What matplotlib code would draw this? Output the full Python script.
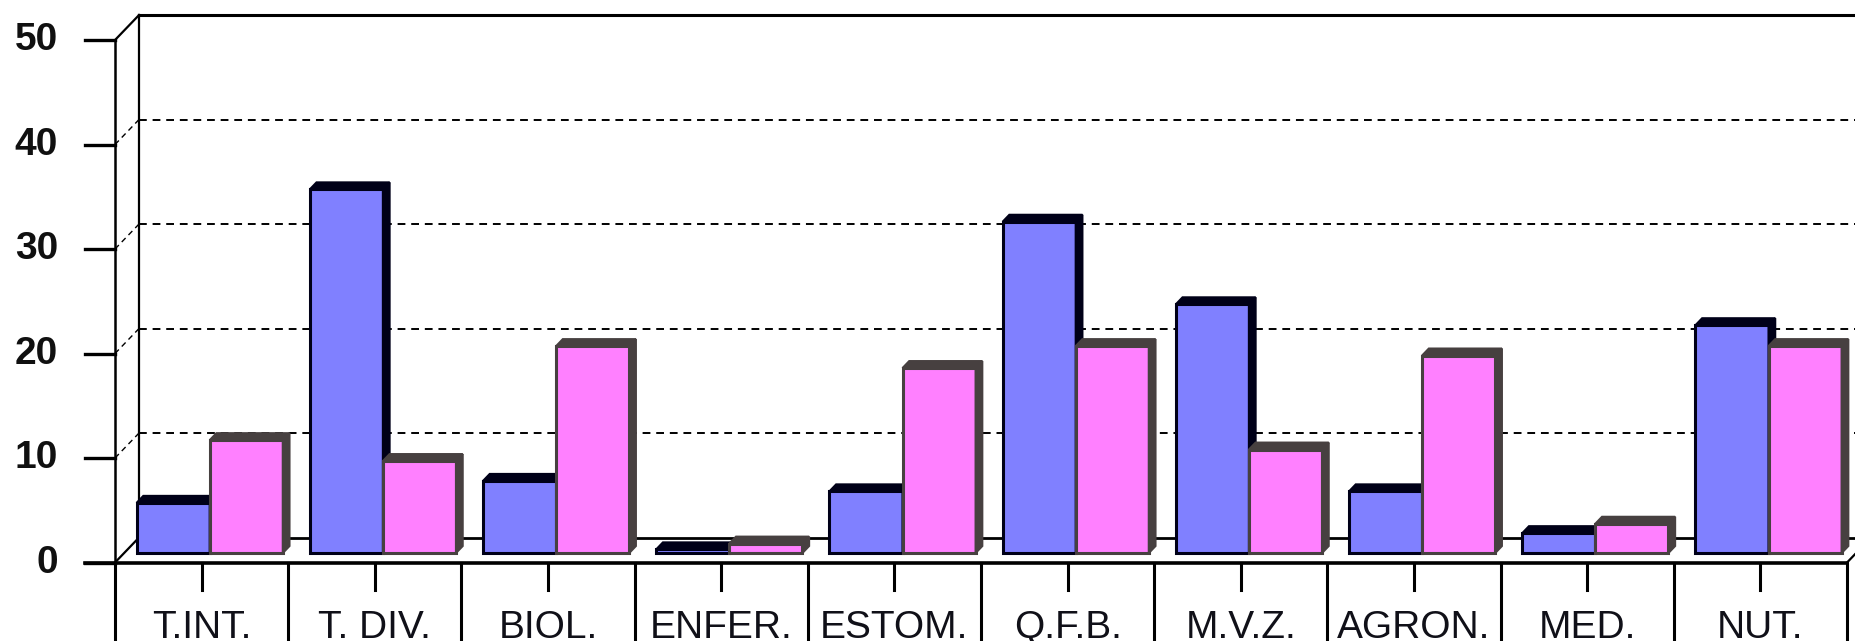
import matplotlib.pyplot as plt
from matplotlib.patches import Polygon

plt.rcParams['font.family'] = ['Liberation Sans', 'DejaVu Sans']

# data
categories = ['T.INT.', 'T. DIV.', 'BIOL.', 'ENFER.', 'ESTOM.',
              'Q.F.B.', 'M.V.Z.', 'AGRON.', 'MED.', 'NUT.']
serie_azul = [4.8, 34.8, 6.9, 0.35, 5.9, 31.7, 23.8, 5.9, 1.9, 21.8]
serie_rosa = [10.8, 8.8, 19.8, 0.9, 17.7, 19.8, 9.9, 18.9, 2.8, 19.8]
y_ticks = [0, 10, 20, 30, 40, 50]
y_max = 50

# pseudo 3d geometry (data units: 1 per category, value units vertically)
DX, DY = 0.1386, 2.39        # wall depth
t_front, t_depth = 0.38, 0.28  # bar position / thickness in depth
bar_w = 0.422
bar_off = 0.072

fig = plt.figure(figsize=(18.55, 6.41), dpi=100)
ax = fig.add_axes([0, 0, 1, 1])
ax.set_xlim(-0.664, 10.046)
ax.set_ylim(-7.51, 53.83)
ax.axis('off')

n = len(categories)
dash = (0, (4, 3))

# back wall + gridlines
for v in y_ticks[1:-1]:
    ax.plot([DX, 11], [v + DY, v + DY], color='black', lw=1.4, linestyle=dash, zorder=1)
    ax.plot([0, DX], [v, v + DY], color='black', lw=1.0, linestyle=dash, zorder=1)
ax.plot([DX, DX], [DY, y_max + DY], color='black', lw=1.6, zorder=1)
ax.plot([DX, 11], [y_max + DY, y_max + DY], color='black', lw=2.2, zorder=1)
ax.plot([0, DX], [y_max, y_max + DY], color='black', lw=1.6, zorder=1)
ax.plot([0, 0], [0, y_max], color='black', lw=1.8, zorder=1)

# floor
ax.plot([DX, 11], [DY, DY], color='black', lw=2.0, zorder=1)
ax.plot([0, DX], [0, DY], color='black', lw=1.6, zorder=1)
ax.plot([n, n + DX], [0, DY], color='black', lw=1.6, zorder=1)
ax.plot([-0.173, n], [0, 0], color='black', lw=2.6, zorder=5)

# y ticks
for v in y_ticks:
    ax.plot([-0.173, 0], [v, v], color='black', lw=2.4, zorder=5)
    ax.text(-0.329, v, str(v), ha='right', va='center', fontsize=28,
            fontweight='bold', color='#101010')

# bars
def draw_bar(x, v, face, side, z):
    xb = x + t_front * DX
    yb = t_front * DY
    ax.bar(xb, v, width=bar_w, bottom=yb, align='edge', color=face,
           edgecolor=side, linewidth=2.2, zorder=z)
    ddx, ddy = t_depth * DX, t_depth * DY
    xr, yt = xb + bar_w, yb + v
    top = Polygon([(xb, yt), (xr, yt), (xr + ddx, yt + ddy), (xb + ddx, yt + ddy)],
                  closed=True, facecolor=side, edgecolor=side, lw=1.5, zorder=z)
    lado = Polygon([(xr, yb), (xr, yt), (xr + ddx, yt + ddy), (xr + ddx, yb + ddy)],
                   closed=True, facecolor=side, edgecolor=side, lw=1.5, zorder=z)
    ax.add_patch(top)
    ax.add_patch(lado)

z = 2
for i in range(n):
    draw_bar(i + bar_off, serie_azul[i], '#8080FF', '#000018', z)
    z += 0.01
    draw_bar(i + bar_off + bar_w, serie_rosa[i], '#FF80FF', '#474040', z)
    z += 0.01

# category boxes
for i in range(n + 1):
    ax.plot([i, i], [0, -8], color='black', lw=2.2, zorder=5)
for i, cat in enumerate(categories):
    ax.plot([i + 0.5, i + 0.5], [0, -2.63], color='black', lw=2.2, zorder=5)
    ax.text(i + 0.5, -7.2, cat, ha='center', va='baseline', fontsize=28,
            color='#101018')

fig.savefig('out.png', dpi=100)
